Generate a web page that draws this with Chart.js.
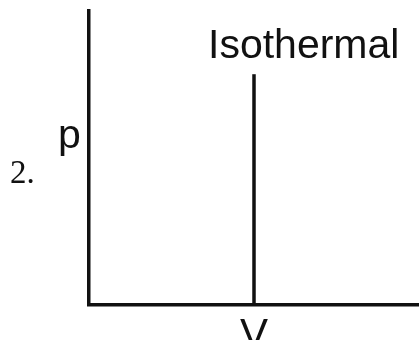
<!DOCTYPE html>
<html>
<head>
<meta charset="utf-8">
<script src="https://cdn.jsdelivr.net/npm/chart.js@4/dist/chart.umd.min.js"></script>
<style>
  html, body { margin: 0; padding: 0; background: #fff; overflow: hidden; }
</style>
</head>
<body>
<canvas id="grafico" width="419" height="340"></canvas>
<script>
// datos de la linea isotermica (V constante)
var volumen = [5, 5];
var presion = [0, 7.85];
var etiquetaLinea = 'Isothermal';
var tituloX = 'V';
var tituloY = 'p';
var numeroFigura = '2.';

// textos sueltos: numero, eje p y nombre de la linea
var textosPlugin = {
  id: 'textos',
  afterDraw: function(chart) {
    var ctx = chart.ctx;
    ctx.save();
    ctx.fillStyle = '#111';
    ctx.textBaseline = 'alphabetic';
    ctx.textAlign = 'left';
    ctx.font = '33px "Liberation Serif"';
    ctx.fillText(numeroFigura, 10, 183);
    ctx.font = '41px "Liberation Sans"';
    ctx.fillText(tituloY, 58, 148);
    ctx.fillText(etiquetaLinea, 208, 58);
    ctx.restore();
  }
};

function cargarGrafico() {
  var ctx = document.getElementById('grafico').getContext('2d');
  var puntos = volumen.map(function(v, i) { return {x: v, y: presion[i]}; });

  var config = {
    type: 'line',
    data: {
      datasets: [{
        label: etiquetaLinea,
        data: puntos,
        borderColor: '#111',
        borderWidth: 3.5,
        pointRadius: 0,
        fill: false,
        clip: false
      }]
    },
    options: {
      responsive: false,
      animation: false,
      layout: {
        padding: { left: 89, top: 11, right: 0, bottom: 0 }
      },
      plugins: {
        legend: { display: false },
        tooltip: { enabled: false }
      },
      scales: {
        x: {
          type: 'linear',
          min: 0,
          max: 10,
          grid: { display: false, drawTicks: false },
          border: { display: true, color: '#111', width: 3.5 },
          ticks: { display: false },
          title: {
            display: true,
            text: tituloX,
            color: '#111',
            font: { family: 'Liberation Sans', size: 42, lineHeight: 1.2 },
            padding: { top: 6.3, bottom: -21.7 }
          }
        },
        y: {
          type: 'linear',
          min: 0,
          max: 10,
          grid: { display: false, drawTicks: false },
          border: { display: true, color: '#111', width: 3.5 },
          ticks: { display: false }
        }
      }
    },
    plugins: [textosPlugin]
  };

  new Chart(ctx, config);
}

cargarGrafico();
</script>
</body>
</html>
